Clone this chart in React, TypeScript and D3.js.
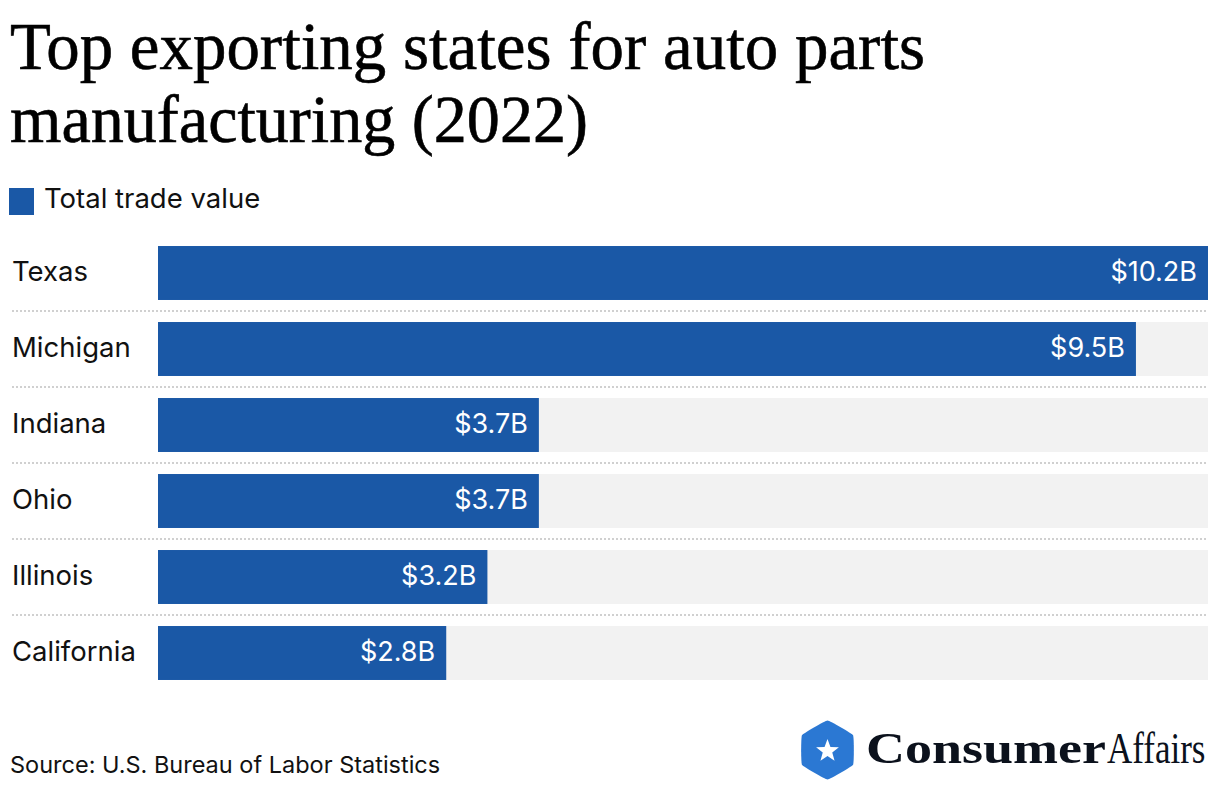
import React from "react";
import * as d3 from "d3";

const states = ["Texas", "Michigan", "Indiana", "Ohio", "Illinois", "California"];
const values = [10.2, 9.5, 3.7, 3.7, 3.2, 2.8];
const valueLabels = ["$10.2B", "$9.5B", "$3.7B", "$3.7B", "$3.2B", "$2.8B"];
const titleLines = ["Top exporting states for auto parts", "manufacturing (2022)"];
const legendLabel = "Total trade value";
const sourceText = "Source: U.S. Bureau of Labor Statistics";

const W = 1220;
const H = 792;
const BAR = "#1a58a6";
const SANS = "Inter, 'Noto Sans', Roboto, sans-serif";
const SERIF = "'Liberation Serif', 'DejaVu Serif', serif";

export default function App() {
  const x = d3.scaleLinear().domain([0, 10.2]).range([158, 1208]);
  const y = d3.scaleBand<string>().domain(states).range([235, 691]).paddingInner(0.29).paddingOuter(0.145);
  const bw = y.bandwidth();
  const step = y.step();

  // hexagon
  const hx = 827.5, hy = 750, hr = 29.5;
  const hexPts = d3.range(6).map((i) => {
    const a = (Math.PI / 3) * i - Math.PI / 2;
    return [hx + hr * Math.cos(a), hy + hr * Math.sin(a)] as [number, number];
  });
  const hexPath = d3.line().curve(d3.curveCardinalClosed.tension(0.75))(hexPts) as string;
  const starPts = d3.range(10).map((i) => {
    const a = (Math.PI / 5) * i - Math.PI / 2;
    const r = i % 2 === 0 ? 12 : 5;
    return [hx + r * Math.cos(a), hy + 1 + r * Math.sin(a)] as [number, number];
  });
  const starPath = (d3.line()(starPts) as string) + "Z";

  return (
    <svg width={W} height={H} style={{ position: "absolute", left: 0, top: 0, background: "#fff" }}>
      <rect x={0} y={0} width={W} height={H} fill="#fff" />
      {titleLines.map((t, i) => (
        <text
          key={t}
          x={10}
          y={69 + i * 73}
          fontFamily={SERIF}
          fontSize={67}
          fill="#000"
          stroke="#000"
          strokeWidth={0.6}
          textLength={i === 0 ? 915 : 578}
          lengthAdjust="spacingAndGlyphs"
        >
          {t}
        </text>
      ))}
      <rect x={9} y={188} width={25} height={27} fill={BAR} />
      <text x={44} y={208} fontFamily={SANS} fontSize={27.5} fill="#111">
        {legendLabel}
      </text>

      {states.map((s, i) => {
        const yy = y(s)!;
        return (
          <g key={s}>
            <rect x={x(0)} y={yy} width={x(10.2) - x(0)} height={bw} fill="#f2f2f2" />
            <rect x={x(0)} y={yy} width={x(values[i]) - x(0)} height={bw} fill={BAR} />
            <text x={12} y={yy + bw / 2} dy="0.28em" fontFamily={SANS} fontSize={27.5} fill="#111">
              {s}
            </text>
            <text
              x={x(values[i]) - 11}
              y={yy + bw / 2}
              dy="0.28em"
              textAnchor="end"
              fontFamily={SANS}
              fontSize={27}
              fill="#fff"
            >
              {valueLabels[i]}
            </text>
            {i < states.length - 1 && (
              <line
                x1={12}
                x2={1208}
                y1={yy + bw + (step - bw) / 2}
                y2={yy + bw + (step - bw) / 2}
                stroke="#d0d0d0"
                strokeWidth={2}
                strokeDasharray="2,2"
              />
            )}
          </g>
        );
      })}

      <text x={10} y={773} fontFamily={SANS} fontSize={23.5} fill="#111">
        {sourceText}
      </text>

      <path d={hexPath} fill="#2b78d3" />
      <path d={starPath} fill="#fff" />
      <text x={866} y={763} fill="#0b111c" fontFamily={SERIF} fontWeight={900} fontSize={44} textLength={240} lengthAdjust="spacingAndGlyphs">
        Consumer
      </text>
      <text
        transform="translate(1107,763) scale(1,1.25)"
        x={0}
        y={0}
        fill="#0b111c"
        fontFamily={SERIF}
        fontSize={35}
      >
        Affairs
      </text>
    </svg>
  );
}
